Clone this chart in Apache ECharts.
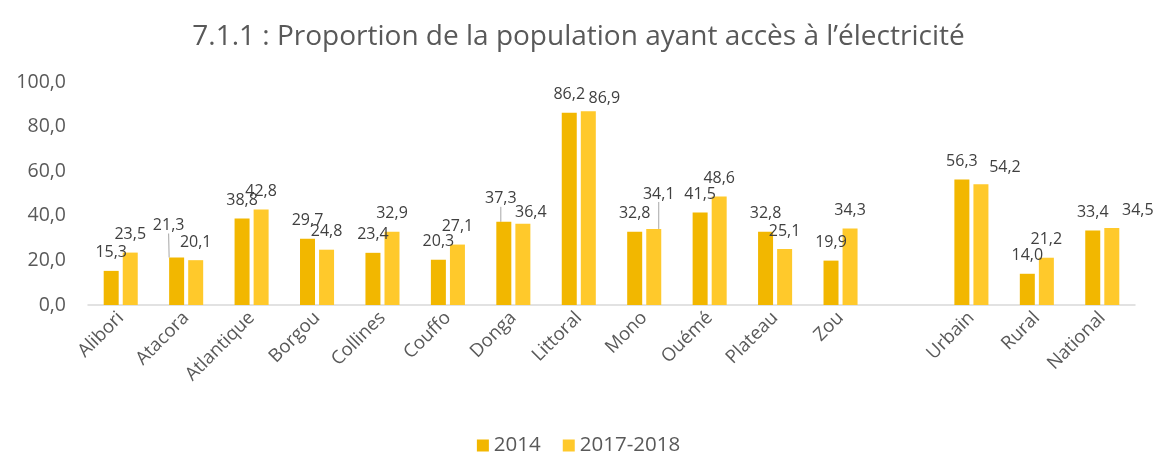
<!DOCTYPE html>
<html>
<head>
<meta charset="utf-8">
<script src="https://cdn.jsdelivr.net/npm/echarts@6/dist/echarts.min.js"></script>
<style>
  html, body { margin: 0; padding: 0; background: #fff; }
  #chart { width: 1157px; height: 462px; }
</style>
</head>
<body>
<div id="chart"></div>
<script>
// categories (one blank slot separates departments from Urbain/Rural/National)
var categories = ['Alibori', 'Atacora', 'Atlantique', 'Borgou', 'Collines', 'Couffo', 'Donga',
  'Littoral', 'Mono', 'Ouémé', 'Plateau', 'Zou', '', 'Urbain', 'Rural', 'National'];
var data2014 = [15.3, 21.3, 38.8, 29.7, 23.4, 20.3, 37.3, 86.2, 32.8, 41.5, 32.8, 19.9, '-', 56.3, 14.0, 33.4];
var data2017 = [23.5, 20.1, 42.8, 24.8, 32.9, 27.1, 36.4, 86.9, 34.1, 48.6, 25.1, 34.3, '-', 54.2, 21.2, 34.5];
var yTicks = [0, 20, 40, 60, 80, 100];

// label nudges (Excel moved a few labels by hand), keyed by category index
var shift2014 = { 1: [-8, -14], 6: [-3, -5] };
var shift2017 = { 6: [8, 7], 7: [16, 5], 8: [5, -17], 13: [24, 1], 15: [26, 0] };
var lines2014 = [1, 6];
var lines2017 = [8];

var txt = '#595959';
var font = 'Open Sans';

function fmt(v) { return Number(v).toFixed(1).replace('.', ','); }

function items(values, lines) {
  return values.map(function(v, i) {
    if (lines.indexOf(i) >= 0) {
      return { value: v, labelLine: { show: true, lineStyle: { color: '#a6a6a6', width: 1 } } };
    }
    return v;
  });
}

function layoutFor(shift) {
  return function(p) {
    var s = shift[p.dataIndex] || [0, 0];
    return { dx: s[0], dy: s[1] };
  };
}

var chart = echarts.init(document.getElementById('chart'));
var option = {
  backgroundColor: '#fff',
  animation: false,
  title: {
    text: '7.1.1 : Proportion de la population ayant accès à l\u2019électricité',
    left: 'center',
    top: 18,
    textStyle: { fontFamily: font, fontSize: 28, fontWeight: 'normal', color: txt }
  },
  legend: {
    bottom: 1,
    left: 'center',
    itemWidth: 12,
    itemHeight: 12,
    itemGap: 22,
    icon: 'rect',
    textStyle: { fontFamily: font, fontSize: 20.5, color: txt },
    data: ['2014', '2017-2018']
  },
  grid: { left: 88, right: 22, top: 82, bottom: 157 },
  xAxis: {
    type: 'category',
    data: categories,
    axisLine: { lineStyle: { color: '#d9d9d9', width: 1.5 } },
    axisTick: { show: false },
    axisLabel: {
      interval: 0,
      rotate: 45,
      margin: 10,
      fontFamily: font,
      fontSize: 18.5,
      color: txt
    }
  },
  yAxis: {
    type: 'value',
    min: yTicks[0],
    max: yTicks[yTicks.length - 1],
    interval: 20,
    splitLine: { show: false },
    axisLine: { show: false },
    axisTick: { show: false },
    axisLabel: {
      margin: 22,
      fontFamily: font,
      fontSize: 19.5,
      color: txt,
      formatter: fmt
    }
  },
  series: [
    {
      name: '2014',
      type: 'bar',
      barWidth: 15,
      barGap: '27%',
      itemStyle: { color: '#F2B700' },
      label: {
        show: true, position: 'top', distance: 10,
        fontFamily: font, fontSize: 16, color: '#404040',
        formatter: function(p) { return fmt(p.value); }
      },
      labelLayout: layoutFor(shift2014),
      data: items(data2014, lines2014)
    },
    {
      name: '2017-2018',
      type: 'bar',
      barWidth: 15,
      itemStyle: { color: '#FFC92B' },
      label: {
        show: true, position: 'top', distance: 10,
        fontFamily: font, fontSize: 16, color: '#404040',
        formatter: function(p) { return fmt(p.value); }
      },
      labelLayout: layoutFor(shift2017),
      data: items(data2017, lines2017)
    }
  ]
};
chart.setOption(option);
</script>
</body>
</html>
